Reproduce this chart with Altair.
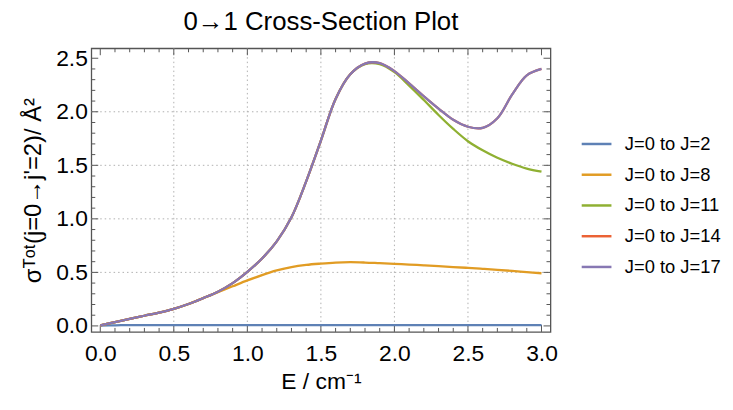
import altair as alt
import pandas as pd

E = [round(i * 0.1, 1) for i in range(31)]
J2 = [0.003, 0.006, 0.007, 0.008, 0.008, 0.008, 0.008, 0.008, 0.008, 0.008, 0.008,
      0.008, 0.008, 0.008, 0.008, 0.008, 0.008, 0.008, 0.008, 0.008, 0.008,
      0.008, 0.008, 0.008, 0.008, 0.008, 0.008, 0.008, 0.008, 0.008, 0.008]
J8 = [0.005, 0.035, 0.065, 0.095, 0.125, 0.16, 0.205, 0.26, 0.315, 0.37, 0.425,
      0.475, 0.518, 0.55, 0.57, 0.582, 0.591, 0.595, 0.592, 0.586, 0.58,
      0.573, 0.566, 0.558, 0.55, 0.542, 0.533, 0.524, 0.514, 0.503, 0.492]
J11 = [0.005, 0.035, 0.065, 0.095, 0.125, 0.16, 0.205, 0.26, 0.32, 0.40, 0.505,
       0.63, 0.79, 1.015, 1.35, 1.73, 2.12, 2.35, 2.445, 2.445, 2.37,
       2.245, 2.11, 1.97, 1.84, 1.725, 1.64, 1.57, 1.515, 1.47, 1.44]
J14 = [0.005, 0.035, 0.065, 0.095, 0.125, 0.16, 0.205, 0.26, 0.32, 0.40, 0.505,
       0.63, 0.79, 1.015, 1.35, 1.73, 2.12, 2.35, 2.45, 2.455, 2.38,
       2.265, 2.145, 2.03, 1.925, 1.86, 1.85, 1.94, 2.16, 2.34, 2.40]
J17 = list(J14)

series_names = ["J=0 to J=2", "J=0 to J=8", "J=0 to J=11", "J=0 to J=14", "J=0 to J=17"]
series_vals = [J2, J8, J11, J14, J17]
colors = ["#5E81B5", "#E19C24", "#8FB032", "#EB6235", "#8778B3"]

x_major = [0.0, 0.5, 1.0, 1.5, 2.0, 2.5, 3.0]
x_minor = [0.1, 0.2, 0.3, 0.4, 0.6, 0.7, 0.8, 0.9, 1.1, 1.2, 1.3, 1.4, 1.6, 1.7, 1.8, 1.9,
           2.1, 2.2, 2.3, 2.4, 2.6, 2.7, 2.8, 2.9]
y_major = [0.0, 0.5, 1.0, 1.5, 2.0, 2.5]
y_minor = [0.1, 0.2, 0.3, 0.4, 0.6, 0.7, 0.8, 0.9, 1.1, 1.2, 1.3, 1.4, 1.6, 1.7, 1.8, 1.9,
           2.1, 2.2, 2.3, 2.4]
x_grid = [0.5, 1.0, 1.5, 2.0, 2.5]
y_grid = [0.5, 1.0, 1.5, 2.0]

W, H = 463, 286
FONT = "Liberation Sans"

rows = []
for k, (name, vals) in enumerate(zip(series_names, series_vals)):
    for e, v in zip(E, vals):
        rows.append({"E": e, "sigma": v, "series": name, "k": k})
df = pd.DataFrame(rows)

xs = alt.Scale(domain=[-0.061, 3.061], nice=False, zero=False)
ys = alt.Scale(domain=[-0.056, 2.593], nice=False, zero=False)

lines = alt.Chart(df).mark_line(strokeWidth=2.3, interpolate="catmull-rom", clip=True).encode(
    x=alt.X("E:Q", scale=xs,
            axis=alt.Axis(values=x_major, format=".1f", title="E / cm⁻¹", ticks=False,
                          grid=False, domain=False, labelFontSize=23, titleFontSize=23,
                          labelFont=FONT, titleFont=FONT, labelColor="black", titleColor="black",
                          titleFontWeight="normal", labelPadding=11, titlePadding=5)),
    y=alt.Y("sigma:Q", scale=ys,
            axis=alt.Axis(values=y_major, format=".1f", title="σᵀᵒᵗ(j=0→j'=2)/ Å²", ticks=False,
                          grid=False, domain=False, labelFontSize=23, titleFontSize=24,
                          labelFont=FONT, titleFont=FONT, labelColor="black", titleColor="black",
                          titleFontWeight="normal", labelPadding=4, titlePadding=10)),
    color=alt.Color("series:N", scale=alt.Scale(domain=series_names, range=colors),
                    sort=series_names,
                    legend=alt.Legend(title=None, orient="none", legendX=493, legendY=80,
                                      symbolType="stroke", symbolSize=900, symbolStrokeWidth=2.5,
                                      labelFontSize=18.5, labelFont=FONT, labelColor="black",
                                      rowPadding=5, labelOffset=12, labelLimit=200)),
    detail="series:N",
    order=alt.Order("E:Q"),
)

gx = alt.Chart(pd.DataFrame({"v": x_grid})).mark_rule(color="#b0b0b0", strokeDash=[1.5, 3], strokeWidth=1).encode(
    x=alt.X("v:Q", scale=xs), y=alt.value(0), y2=alt.value(H))
gy = alt.Chart(pd.DataFrame({"v": y_grid})).mark_rule(color="#b0b0b0", strokeDash=[1.5, 3], strokeWidth=1).encode(
    y=alt.Y("v:Q", scale=ys), x=alt.value(0), x2=alt.value(W))

TC = "#555555"
def xticks(vals, ln):
    d = pd.DataFrame({"v": vals})
    b = alt.Chart(d).mark_rule(color=TC, strokeWidth=1).encode(
        x=alt.X("v:Q", scale=xs), y=alt.value(H), y2=alt.value(H - ln))
    t = alt.Chart(d).mark_rule(color=TC, strokeWidth=1).encode(
        x=alt.X("v:Q", scale=xs), y=alt.value(0), y2=alt.value(ln))
    return [b, t]

def yticks(vals, ln):
    d = pd.DataFrame({"v": vals})
    l = alt.Chart(d).mark_rule(color=TC, strokeWidth=1).encode(
        y=alt.Y("v:Q", scale=ys), x=alt.value(0), x2=alt.value(ln))
    r = alt.Chart(d).mark_rule(color=TC, strokeWidth=1).encode(
        y=alt.Y("v:Q", scale=ys), x=alt.value(W), x2=alt.value(W - ln))
    return [l, r]

layers = [gx, gy] + xticks(x_major, 7) + xticks(x_minor, 4) + yticks(y_major, 7) + yticks(y_minor, 4) + [lines]

chart = alt.layer(*layers).properties(
    width=W, height=H,
    title=alt.TitleParams("0→1 Cross‑Section Plot", fontSize=26, font=FONT, fontWeight="normal",
                          color="black", anchor="middle", offset=12),
    autosize=alt.AutoSizeParams(type="none"),
    padding={"left": 84, "top": 39, "right": 176, "bottom": 63},
).configure_view(stroke=TC, strokeWidth=1.3).resolve_scale(x="shared", y="shared")

chart.save("out.html", embed_options={"renderer": "svg", "actions": False})
